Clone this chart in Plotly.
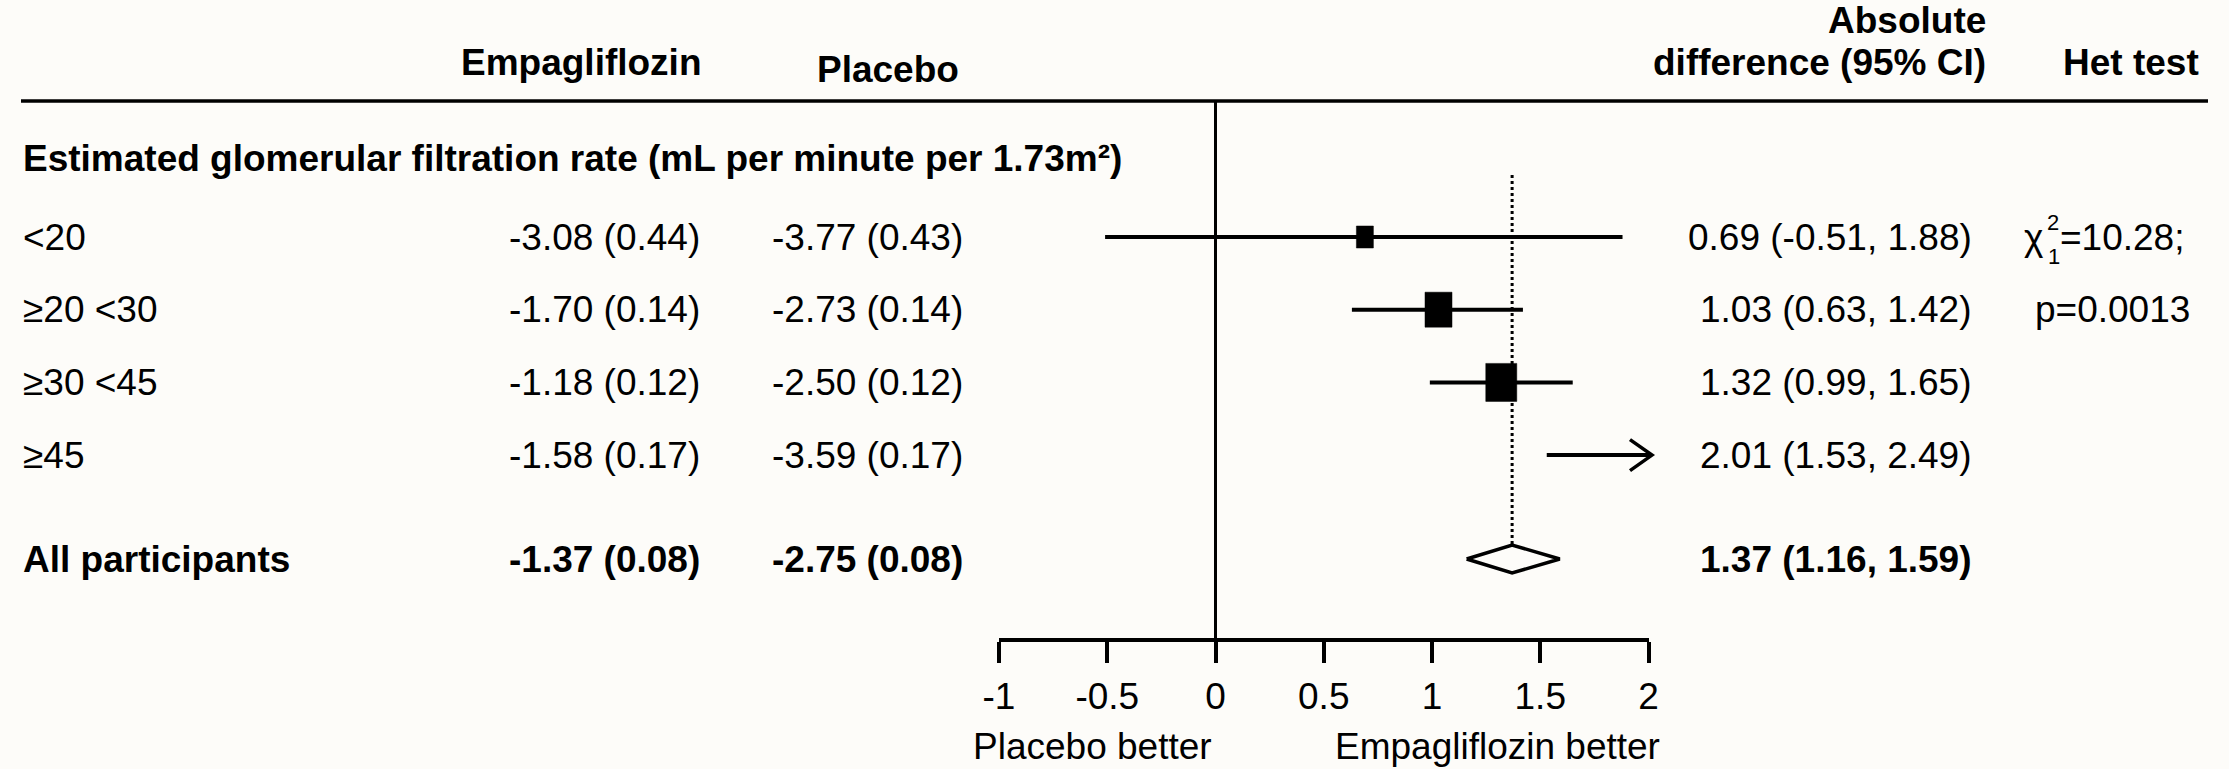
import plotly.graph_objects as go

# ---------------- data ----------------
section_title = "Estimated glomerular filtration rate (mL per minute per 1.73m²)"
subgroups = ["<20", "≥20 <30", "≥30 <45", "≥45"]
empa_mean = [-3.08, -1.70, -1.18, -1.58]
empa_se = [0.44, 0.14, 0.12, 0.17]
plac_mean = [-3.77, -2.73, -2.50, -3.59]
plac_se = [0.43, 0.14, 0.12, 0.17]
diff = [0.69, 1.03, 1.32, 2.01]
diff_lo = [-0.51, 0.63, 0.99, 1.53]
diff_hi = [1.88, 1.42, 1.65, 2.49]

overall_label = "All participants"
overall_empa = [-1.37, 0.08]
overall_plac = [-2.75, 0.08]
overall_diff = [1.37, 1.16, 1.59]

het_chi2 = 10.28
het_df = 1
het_p = "0.0013"

tick_vals = [-1, -0.5, 0, 0.5, 1, 1.5, 2]
tick_text = ["-1", "-0.5", "0", "0.5", "1", "1.5", "2"]

# ---------------- layout / style constants ----------------
W, H = 2229, 769
BG = "#fdfcf9"
FONT = "Liberation Sans, Arial, sans-serif"
FS = 37
X0_PX = 1215.5      # pixel of value 0
PXU = 216.5         # pixels per unit
ROW0_PX = 237.0
ROW_STEP = 72.7
AX_MIN, AX_MAX = tick_vals[0], tick_vals[-1]
AXIS_PX = 640
BOX_W_PX = [17, 27, 31, 0]
BOX_H_PX = [22, 35, 38, 0]


def yr(px):
    return (px - ROW0_PX) / ROW_STEP


def xp(px):
    return px / W


def dx(px):
    return px / PXU


rows = list(range(len(subgroups)))
ALL_ROW = yr(559)

fig = go.Figure()
line = dict(color="black", width=4)

# zero line
fig.add_trace(go.Scatter(x=[0, 0], y=[yr(101), yr(AXIS_PX)], mode="lines",
                         line=dict(color="black", width=3), hoverinfo="skip"))
# dotted overall line
DIA_H = 14 / ROW_STEP
fig.add_trace(go.Scatter(x=[overall_diff[0]] * 2, y=[yr(175), ALL_ROW - DIA_H], mode="lines",
                         line=dict(color="black", width=3, dash="dot"), hoverinfo="skip"))

for i in rows:
    lo, hi, est = diff_lo[i], diff_hi[i], diff[i]
    if hi <= AX_MAX:
        fig.add_trace(go.Scatter(x=[lo, hi], y=[i, i], mode="lines", line=line, hoverinfo="skip"))
        hw, hh = dx(BOX_W_PX[i]) / 2, BOX_H_PX[i] / 2 / ROW_STEP
        fig.add_trace(go.Scatter(x=[est - hw, est + hw, est + hw, est - hw, est - hw],
                                 y=[i - hh, i - hh, i + hh, i + hh, i - hh],
                                 mode="lines", fill="toself", fillcolor="black",
                                 line=dict(color="black", width=0.5), hoverinfo="skip"))
    else:
        tip = AX_MAX + dx(3.5)
        back, vh = dx(22), 15.5 / ROW_STEP
        fig.add_trace(go.Scatter(x=[lo, tip], y=[i, i], mode="lines", line=line, hoverinfo="skip"))
        fig.add_trace(go.Scatter(x=[tip - back, tip, tip - back], y=[i - vh, i, i + vh], mode="lines",
                                 line=dict(color="black", width=3.5), hoverinfo="skip"))

# overall diamond
e, l, h = overall_diff
fig.add_trace(go.Scatter(x=[l, e, h, e, l], y=[ALL_ROW, ALL_ROW - DIA_H, ALL_ROW, ALL_ROW + DIA_H, ALL_ROW],
                         mode="lines", fill="toself", fillcolor=BG,
                         line=dict(color="black", width=3.5), hoverinfo="skip"))

# invisible trace that carries the visible scale axis
fig.add_trace(go.Scatter(x=[AX_MIN, AX_MAX], y=[yr(AXIS_PX)] * 2, xaxis="x2", yaxis="y",
                         mode="markers", marker=dict(opacity=0), hoverinfo="skip"))

# ---------------- texts ----------------
ann = []


def txt(xpx, y, s, anchor="left", size=FS, bold=False, yanchor="middle"):
    if bold:
        s = "<b>" + s + "</b>"
    ann.append(dict(x=xp(xpx), y=y, xref="paper", yref="y", text=s, showarrow=False,
                    xanchor=anchor, yanchor=yanchor,
                    font=dict(family=FONT, size=size, color="black")))


txt(704, yr(62), "Empagliflozin", "right", bold=True)
txt(961, yr(69), "Placebo", "right", bold=True)
txt(1988, yr(20), "Absolute", "right", bold=True)
txt(1988, yr(62), "difference (95% CI)", "right", bold=True)
txt(2201, yr(62), "Het test", "right", bold=True)
txt(21, yr(158), section_title, "left", bold=True)

for i in rows:
    txt(21, i, subgroups[i])
    txt(702, i, f"{empa_mean[i]:.2f} ({empa_se[i]:.2f})", "right")
    txt(965, i, f"{plac_mean[i]:.2f} ({plac_se[i]:.2f})", "right")
    txt(1974, i, f"{diff[i]:.2f} ({diff_lo[i]:.2f}, {diff_hi[i]:.2f})", "right")

txt(21, ALL_ROW, overall_label, bold=True)
txt(702, ALL_ROW, f"{overall_empa[0]:.2f} ({overall_empa[1]:.2f})", "right", bold=True)
txt(965, ALL_ROW, f"{overall_plac[0]:.2f} ({overall_plac[1]:.2f})", "right", bold=True)
txt(1974, ALL_ROW, f"{overall_diff[0]:.2f} ({overall_diff[1]:.2f}, {overall_diff[2]:.2f})", "right", bold=True)

# heterogeneity test
txt(2022, 0, "χ")
txt(2045, yr(222), "2", size=22)
txt(2046, yr(256), "1", size=22)
txt(2058, 0, f"={het_chi2:.2f};")
txt(2033, 1, f"p={het_p}")

txt(1092, yr(H), "Placebo better", "center", yanchor="bottom")
txt(1497, yr(H), "Empagliflozin better", "center", yanchor="bottom")

fig.update_layout(
    width=W, height=H, margin=dict(l=0, r=0, t=0, b=0, autoexpand=False),
    paper_bgcolor=BG, plot_bgcolor="rgba(0,0,0,0)", showlegend=False,
    xaxis=dict(domain=[0, 1], range=[-X0_PX / PXU, (W - X0_PX) / PXU], visible=False),
    yaxis=dict(domain=[0, 1], range=[yr(H), yr(0)], visible=False),
    xaxis2=dict(domain=[xp(X0_PX + AX_MIN * PXU), xp(X0_PX + AX_MAX * PXU)],
                range=[AX_MIN, AX_MAX], anchor="free", position=1 - AXIS_PX / H,
                showline=True, linecolor="black", linewidth=3.5,
                ticks="outside", ticklen=21, tickwidth=3.5, tickcolor="black",
                ticklabelstandoff=2, automargin=False,
                tickvals=tick_vals, ticktext=tick_text, showgrid=False, zeroline=False,
                tickfont=dict(family=FONT, size=FS, color="black")),
    annotations=ann,
    shapes=[dict(type="line", xref="paper", yref="y", x0=xp(21), x1=xp(2208),
                 y0=yr(101), y1=yr(101), line=dict(color="black", width=3.5))],
)

fig.write_html("out.html", config={"displayModeBar": False},
               post_script="document.body.style.margin='0';document.body.style.padding='0';"
                           "document.body.style.overflow='hidden';")
